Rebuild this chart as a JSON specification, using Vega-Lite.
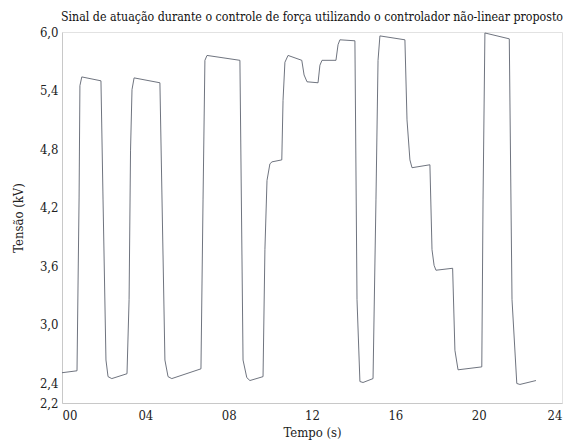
{
  "$schema": "https://vega.github.io/schema/vega-lite/v6.json",
  "autosize": "none",
  "width": 500,
  "height": 371,
  "padding": {"left": 62, "top": 32, "right": 14, "bottom": 40},
  "background": "white",
  "config": {
    "view": {"stroke": "#e2e2e2", "strokeWidth": 1},
    "axis": {"grid": false, "ticks": false, "labelFont": "DejaVu Serif Condensed", "titleFont": "DejaVu Serif Condensed", "labelColor": "#222", "titleColor": "#222", "labelFontSize": 13, "titleFontSize": 13, "titleFontWeight": "normal", "domainColor": "#c8c8c8"}
  },
  "title": {"text": "Sinal de atuação durante o controle de força utilizando o controlador não-linear proposto", "font": "DejaVu Serif Condensed", "fontSize": 12.3, "fontWeight": "normal", "color": "#111", "anchor": "middle", "offset": 3},
  "data": {"values": [
    {"t": 0.00, "v": 2.51}, {"t": 0.72, "v": 2.53}, {"t": 0.82, "v": 4.30}, {"t": 0.86, "v": 5.45}, {"t": 0.95, "v": 5.54},
    {"t": 1.87, "v": 5.50}, {"t": 1.97, "v": 4.28}, {"t": 2.11, "v": 2.64}, {"t": 2.21, "v": 2.47}, {"t": 2.39, "v": 2.45},
    {"t": 3.12, "v": 2.50}, {"t": 3.22, "v": 3.26}, {"t": 3.29, "v": 4.79}, {"t": 3.36, "v": 5.41}, {"t": 3.46, "v": 5.53},
    {"t": 4.70, "v": 5.48}, {"t": 4.94, "v": 2.64}, {"t": 5.09, "v": 2.47}, {"t": 5.27, "v": 2.45},
    {"t": 6.67, "v": 2.55}, {"t": 6.77, "v": 4.28}, {"t": 6.86, "v": 5.71}, {"t": 6.96, "v": 5.76},
    {"t": 8.54, "v": 5.71}, {"t": 8.69, "v": 2.64}, {"t": 8.87, "v": 2.46}, {"t": 9.02, "v": 2.43},
    {"t": 9.65, "v": 2.47}, {"t": 9.74, "v": 3.77}, {"t": 9.84, "v": 4.48}, {"t": 9.98, "v": 4.65}, {"t": 10.08, "v": 4.67},
    {"t": 10.55, "v": 4.69}, {"t": 10.61, "v": 5.30}, {"t": 10.70, "v": 5.69}, {"t": 10.85, "v": 5.76},
    {"t": 11.51, "v": 5.71}, {"t": 11.62, "v": 5.56}, {"t": 11.76, "v": 5.49}, {"t": 12.29, "v": 5.48},
    {"t": 12.38, "v": 5.66}, {"t": 12.48, "v": 5.71}, {"t": 13.15, "v": 5.71},
    {"t": 13.25, "v": 5.87}, {"t": 13.34, "v": 5.92}, {"t": 14.06, "v": 5.91},
    {"t": 14.16, "v": 3.26}, {"t": 14.30, "v": 2.42}, {"t": 14.45, "v": 2.41}, {"t": 14.93, "v": 2.45},
    {"t": 15.07, "v": 4.28}, {"t": 15.17, "v": 5.71}, {"t": 15.26, "v": 5.96},
    {"t": 16.46, "v": 5.92}, {"t": 16.56, "v": 5.10}, {"t": 16.70, "v": 4.69}, {"t": 16.80, "v": 4.61}, {"t": 17.66, "v": 4.64},
    {"t": 17.76, "v": 3.77}, {"t": 17.86, "v": 3.61}, {"t": 17.95, "v": 3.56}, {"t": 18.75, "v": 3.58},
    {"t": 18.86, "v": 2.74}, {"t": 19.01, "v": 2.54}, {"t": 20.15, "v": 2.57},
    {"t": 20.21, "v": 4.28}, {"t": 20.30, "v": 5.99}, {"t": 21.47, "v": 5.93},
    {"t": 21.60, "v": 3.26}, {"t": 21.83, "v": 2.40}, {"t": 21.98, "v": 2.39}, {"t": 22.75, "v": 2.43}
  ]},
  "mark": {"type": "line", "color": "#5f6470", "strokeWidth": 0.9},
  "encoding": {
    "x": {"field": "t", "type": "quantitative", "title": "Tempo (s)",
      "scale": {"domain": [0, 24], "nice": false, "zero": false},
      "axis": {"values": [0, 4, 8, 12, 16, 20, 24], "labelExpr": "format(datum.value, '02d')", "labelPadding": 6, "titlePadding": 4, "domain": true}},
    "y": {"field": "v", "type": "quantitative", "title": "Tensão (kV)",
      "scale": {"domain": [2.2, 6.0], "nice": false, "zero": false},
      "axis": {"values": [2.2, 2.4, 3.0, 3.6, 4.2, 4.8, 5.4, 6.0], "labelExpr": "replace(format(datum.value, '.1f'), '.', ',')", "labelPadding": 4, "titlePadding": 14, "domain": true}}
  }
}
